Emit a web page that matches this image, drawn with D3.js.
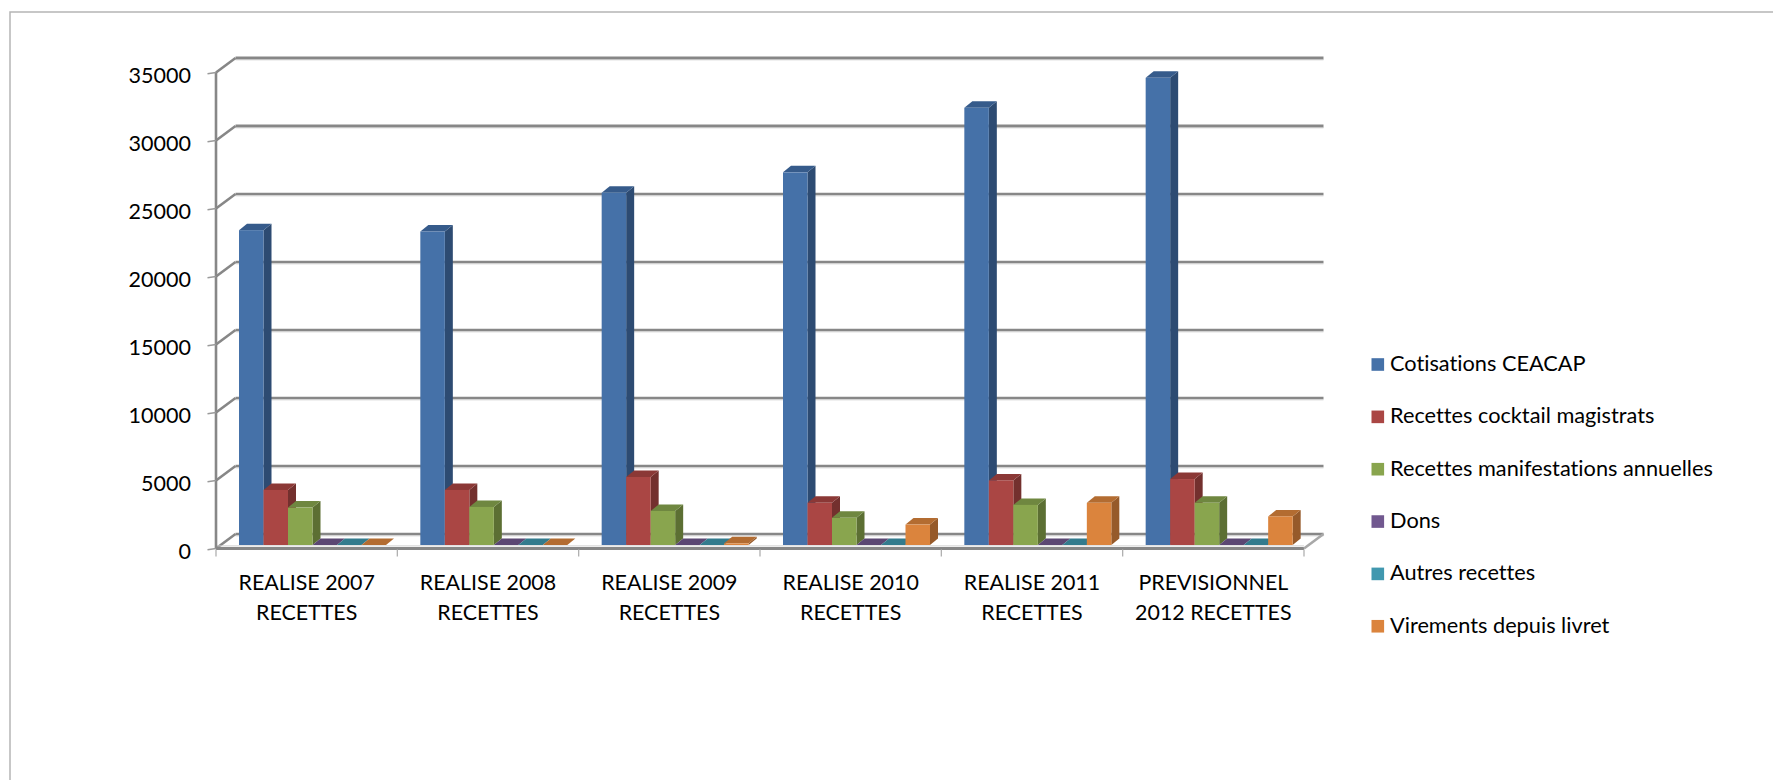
<!DOCTYPE html>
<html>
<head>
<meta charset="utf-8">
<script src="https://cdn.jsdelivr.net/npm/d3@7"></script>
<style>
  html, body { margin: 0; padding: 0; background: #fff; }
  svg { display: block; }
  text { font-variant-ligatures: none; font-feature-settings: "liga" 0, "clig" 0, "dlig" 0; }
</style>
</head>
<body>
<svg id="chart" width="1773" height="780"></svg>
<script>
// ---------------- DATA ----------------
const categories = [
  ["REALISE 2007", "RECETTES"],
  ["REALISE 2008", "RECETTES"],
  ["REALISE 2009", "RECETTES"],
  ["REALISE 2010", "RECETTES"],
  ["REALISE 2011", "RECETTES"],
  ["PREVISIONNEL", "2012 RECETTES"]
];
const seriesNames = [
  "Cotisations CEACAP",
  "Recettes cocktail magistrats",
  "Recettes manifestations annuelles",
  "Dons",
  "Autres recettes",
  "Virements depuis livret"
];
const cotisations    = [23150, 23050, 25900, 27400, 32150, 34350];
const cocktail       = [4050, 4050, 5000, 3100, 4750, 4850];
const manifestations = [2750, 2800, 2500, 2000, 2950, 3100];
const dons           = [0, 0, 0, 0, 0, 0];
const autres         = [0, 0, 0, 0, 0, 0];
const virements      = [0, 0, 120, 1500, 3100, 2100];
const yTicks = [0, 5000, 10000, 15000, 20000, 25000, 30000, 35000];

const seriesValues = [cotisations, cocktail, manifestations, dons, autres, virements];

// ---------------- STYLE ----------------
const FONT = "Lato, 'Open Sans', sans-serif";
const faceColors = [
  {front: "#4571A8", side: "#2D4B72", top: "#365B8B"},
  {front: "#AA4644", side: "#73302E", top: "#8B3836"},
  {front: "#89A54E", side: "#5C6F33", top: "#6F8740"},
  {front: "#71588F", side: "#4C3B60", top: "#5B4773"},
  {front: "#4198AF", side: "#2B6676", top: "#337B8D"},
  {front: "#DB843D", side: "#965A2A", top: "#B36C31"}
];
const legendColors = ["#4571A8", "#AA4644", "#89A54E", "#71588F", "#4198AF", "#DB843D"];
const gridColor = "#878787";

// ---------------- LAYOUT ----------------
const svg = d3.select("#chart");
const W = 1773, H = 780;

// chart frame
svg.append("rect")
  .attr("x", 10).attr("y", 12)
  .attr("width", W + 20).attr("height", H + 20)
  .attr("fill", "#fff").attr("stroke", "#b5b5b5").attr("stroke-width", 1.5);

const plotLeft = 216, plotRight = 1304;
const DX = 19.5, DY = -14.5;         // wall depth offset
const BDX = 8, BDY = -6.5;           // bar depth
const BAR_SHIFT_Y = -3.5;            // bar front plane relative to front floor

const x0 = d3.scaleBand().domain(d3.range(categories.length)).range([plotLeft, plotRight]);
const x1 = d3.scaleBand().domain(d3.range(seriesNames.length)).range([23, 23 + 6 * 24.5]);
const y = d3.scaleLinear().domain([0, 35000]).range([548.5, 72.5]);

// font fitting helper (match text widths of the original)
function fitSize(ref, target, base) {
  const t = svg.append("text").attr("font-family", FONT).attr("font-size", base).text(ref);
  const w = t.node().getComputedTextLength();
  t.remove();
  return base * target / w;
}
const axisFont = fitSize("35000", 62.5, 24);
const catFont = fitSize("REALISE 2007", 136.5, 24);
const legFont = fitSize("Recettes manifestations annuelles", 323, 22);

// back wall gridlines
const grid = svg.append("g");
grid.selectAll("line.back").data(yTicks).join("line")
  .attr("x1", plotLeft + DX).attr("x2", plotRight + DX)
  .attr("y1", d => y(d) + DY).attr("y2", d => y(d) + DY)
  .attr("stroke", gridColor).attr("stroke-width", d => d >= 30000 ? 3.2 : 2.6);
grid.selectAll("line.backhl").data(yTicks).join("line")
  .attr("x1", plotLeft + DX).attr("x2", plotRight + DX)
  .attr("y1", d => y(d) + DY + 1.8).attr("y2", d => y(d) + DY + 1.8)
  .attr("stroke", "#c4c4c4").attr("stroke-width", 0.8);
// side wall diagonals
grid.selectAll("line.side").data(yTicks).join("line")
  .attr("x1", plotLeft).attr("x2", plotLeft + DX)
  .attr("y1", d => y(d)).attr("y2", d => y(d) + DY)
  .attr("stroke", gridColor).attr("stroke-width", 2.6);

// floor: front edge & right edge
grid.append("line")
  .attr("x1", plotLeft).attr("x2", plotRight)
  .attr("y1", y(0)).attr("y2", y(0))
  .attr("stroke", gridColor).attr("stroke-width", 3);
grid.append("line")
  .attr("x1", plotLeft).attr("x2", plotRight)
  .attr("y1", y(0) - 2.6).attr("y2", y(0) - 2.6)
  .attr("stroke", "#d0d0d0").attr("stroke-width", 1);
grid.append("line")
  .attr("x1", plotRight).attr("x2", plotRight + DX)
  .attr("y1", y(0)).attr("y2", y(0) + DY)
  .attr("stroke", "#a8a8a8").attr("stroke-width", 2.6);

// category ticks
const catTicks = d3.range(categories.length + 1).map(i => i === categories.length ? plotRight : x0(i));
grid.selectAll("line.ct").data(catTicks).join("line")
  .attr("x1", d => d).attr("x2", d => d)
  .attr("y1", y(0) + 1).attr("y2", y(0) + 8)
  .attr("stroke", "#b0b0b0").attr("stroke-width", 1.3);

// vertical axis
grid.append("line")
  .attr("x1", plotLeft).attr("x2", plotLeft)
  .attr("y1", y(35000)).attr("y2", y(0))
  .attr("stroke", gridColor).attr("stroke-width", 2.6);
grid.selectAll("line.yt").data(yTicks).join("line")
  .attr("x1", plotLeft - 8.5).attr("x2", plotLeft)
  .attr("y1", d => y(d) + 1.2).attr("y2", d => y(d))
  .attr("stroke", "#9a9a9a").attr("stroke-width", 1.5);

// y labels
svg.append("g").selectAll("text").data(yTicks).join("text")
  .attr("x", 191).attr("y", d => y(d) + 2)
  .attr("text-anchor", "end").attr("dominant-baseline", "central")
  .attr("font-family", FONT).attr("font-size", axisFont).attr("fill", "#000")
  .text(d => d);

// ---------------- BARS ----------------
const bars = svg.append("g");
const yBar = v => y(v) + BAR_SHIFT_Y;
const barData = [];
categories.forEach((c, ci) => {
  seriesValues.forEach((vals, si) => {
    barData.push({ci, si, v: vals[ci]});
  });
});
const bw = x1.bandwidth();
const bg = bars.selectAll("g.bar").data(barData).join("g");
// side face
bg.append("path")
  .attr("d", d => {
    const xr = x0(d.ci) + x1(d.si) + bw, yt = yBar(d.v), yb = yBar(0);
    return `M${xr},${yt}L${xr + BDX},${yt + BDY}L${xr + BDX},${yb + BDY}L${xr},${yb}Z`;
  })
  .attr("fill", d => faceColors[d.si].side);
// top face
bg.append("path")
  .attr("d", d => {
    const xl = x0(d.ci) + x1(d.si), yt = yBar(d.v);
    return `M${xl},${yt}L${xl + bw},${yt}L${xl + bw + BDX},${yt + BDY}L${xl + BDX},${yt + BDY}Z`;
  })
  .attr("fill", d => faceColors[d.si].top);
// front face
bg.append("rect")
  .attr("x", d => x0(d.ci) + x1(d.si))
  .attr("y", d => yBar(d.v))
  .attr("width", bw)
  .attr("height", d => yBar(0) - yBar(d.v))
  .attr("fill", d => faceColors[d.si].front);

// ---------------- CATEGORY LABELS ----------------
const cl = svg.append("g").selectAll("text").data(categories).join("text")
  .attr("text-anchor", "middle")
  .attr("font-family", FONT).attr("font-size", catFont).attr("fill", "#000");
cl.append("tspan")
  .attr("x", (d, i) => x0(i) + x0.bandwidth() / 2).attr("y", 589.5)
  .text(d => d[0]);
cl.append("tspan")
  .attr("x", (d, i) => x0(i) + x0.bandwidth() / 2).attr("y", 619.5)
  .text(d => d[1]);

// ---------------- LEGEND ----------------
const leg = svg.append("g").selectAll("g").data(seriesNames).join("g")
  .attr("transform", (d, i) => `translate(1371.5, ${364.5 + i * 52.35})`);
leg.append("rect")
  .attr("x", 0).attr("y", -6.3).attr("width", 12.6).attr("height", 12.6)
  .attr("fill", (d, i) => legendColors[i]);
leg.append("text")
  .attr("x", 18.5).attr("y", 6.5)
  .attr("font-family", FONT).attr("font-size", legFont).attr("fill", "#000")
  .text(d => d);
</script>
</body>
</html>
